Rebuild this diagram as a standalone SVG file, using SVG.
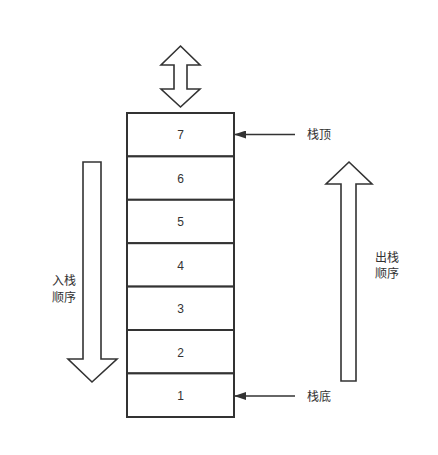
<svg xmlns="http://www.w3.org/2000/svg" width="438" height="455" viewBox="0 0 438 455">
<style>
.box{fill:#fff;stroke:#333;stroke-width:2}
.big{fill:#fff;stroke:#333;stroke-width:1.6;stroke-linejoin:miter}
.num{font-family:"Liberation Sans","Noto Sans CJK SC",sans-serif;font-size:12px;fill:#333;text-anchor:middle}
.lbl{font-family:"Noto Sans CJK SC",sans-serif;font-size:12px;fill:#333}
.con{stroke:#333;stroke-width:1.5;fill:none}
</style>
<defs>
<marker id="ah" markerWidth="12" markerHeight="8" refX="11" refY="4" orient="auto" markerUnits="userSpaceOnUse">
<path d="M0,0 L12,4 L0,8 Z" fill="#333"/>
</marker>
</defs>
<rect width="438" height="455" fill="#fff"/>
<g id="node-7"><rect class="box" x="127" y="113" width="107" height="43.4"/><text class="num" x="180.5" y="139">7</text></g>
<g id="node-6"><rect class="box" x="127" y="156.4" width="107" height="43.4"/><text class="num" x="180.5" y="182.5">6</text></g>
<g id="node-5"><rect class="box" x="127" y="199.8" width="107" height="43.4"/><text class="num" x="180.5" y="226">5</text></g>
<g id="node-4"><rect class="box" x="127" y="243.2" width="107" height="43.4"/><text class="num" x="180.5" y="269.5">4</text></g>
<g id="node-3"><rect class="box" x="127" y="286.6" width="107" height="43.4"/><text class="num" x="180.5" y="313">3</text></g>
<g id="node-2"><rect class="box" x="127" y="330" width="107" height="43.4"/><text class="num" x="180.5" y="356.5">2</text></g>
<g id="node-1"><rect class="box" x="127" y="373.4" width="107" height="43.6"/><text class="num" x="180.5" y="400">1</text></g>
<g id="double-arrow"><path class="big" d="M180.5,46 L200,65 L187,65 L187,89 L200,89 L180.5,107 L161,89 L174,89 L174,65 L161,65 Z"/></g>
<g id="push-order"><path class="big" d="M83,162 L101,162 L101,359 L117,359 L92,382 L68,359 L83,359 Z"/><text class="lbl" x="52" y="285">入栈</text><text class="lbl" x="52" y="302">顺序</text></g>
<g id="pop-order"><path class="big" d="M349,162 L372,184 L356,184 L356,381 L341,381 L341,184 L326,184 Z"/><text class="lbl" x="375" y="262">出栈</text><text class="lbl" x="375" y="278">顺序</text></g>
<g id="label-top"><text class="lbl" x="307" y="139">栈顶</text></g>
<g id="label-bottom"><text class="lbl" x="307" y="401">栈底</text></g>
<g id="connectors">
<line class="con" x1="295" y1="134.5" x2="235" y2="134.5" marker-end="url(#ah)"/>
<line class="con" x1="295" y1="396" x2="235" y2="396" marker-end="url(#ah)"/>
</g>
</svg>
